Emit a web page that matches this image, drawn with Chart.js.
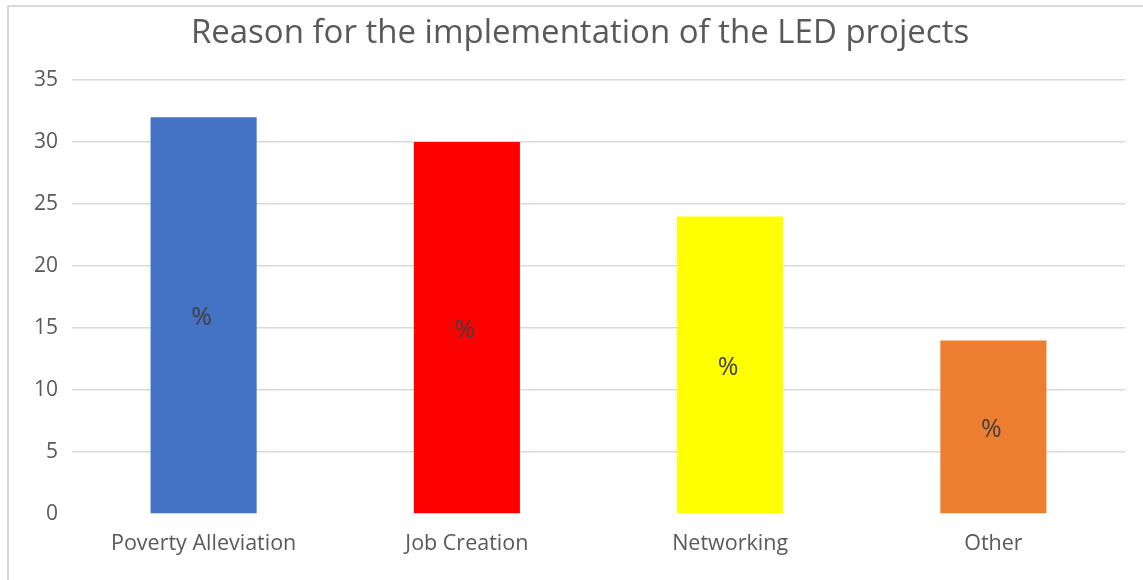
<!DOCTYPE html>
<html>
<head>
<meta charset="utf-8">
<script src="https://cdn.jsdelivr.net/npm/chart.js@4/dist/chart.umd.min.js"></script>
<style>
  html, body { margin: 0; padding: 0; background: #fff; overflow: hidden; }
  #wrap { position: absolute; left: 0; top: 0; width: 1143px; height: 580px; }
</style>
</head>
<body>
<div id="wrap"><canvas id="led-chart" width="1143" height="580"></canvas></div>
<script>
var categories = ['Poverty Alleviation', 'Job Creation', 'Networking', 'Other'];
var percents = [32, 30, 24, 14];
var barColors = ['#4472C4', '#FF0000', '#FFFF00', '#ED7D31'];
var yTicks = [0, 5, 10, 15, 20, 25, 30, 35];

// light grey frame on the top and left edges
var framePlugin = {
  id: 'frame',
  beforeDraw: function(chart) {
    var ctx = chart.ctx;
    ctx.save();
    ctx.strokeStyle = '#d9d9d9';
    ctx.lineWidth = 2;
    ctx.beginPath();
    ctx.moveTo(8, chart.height);
    ctx.lineTo(8, 6);
    ctx.lineTo(chart.width, 6);
    ctx.stroke();
    ctx.restore();
  }
};

// "%" written in the middle of every bar
var percentPlugin = {
  id: 'percentLabels',
  afterDatasetsDraw: function(chart) {
    var ctx = chart.ctx;
    var meta = chart.getDatasetMeta(0);
    ctx.save();
    ctx.fillStyle = '#404040';
    ctx.font = '25px "Open Sans"';
    ctx.textAlign = 'center';
    ctx.textBaseline = 'middle';
    meta.data.forEach(function(bar) {
      var c = bar.getCenterPoint();
      ctx.fillText('%', c.x - 2, c.y + 3);
    });
    ctx.restore();
  }
};

var myBarChart = new Chart(document.getElementById('led-chart').getContext('2d'), {
  type: 'bar',
  data: {
    labels: categories,
    datasets: [{
      data: percents,
      backgroundColor: barColors,
      categoryPercentage: 1,
      barPercentage: 0.403
    }]
  },
  options: {
    responsive: false,
    animation: false,
    layout: { padding: { left: 35, right: 18, top: 0, bottom: 0 } },
    plugins: {
      legend: { display: false },
      tooltip: { enabled: false },
      title: {
        display: true,
        text: 'Reason for the implementation of the LED projects',
        color: '#595959',
        font: { family: '"Open Sans"', size: 33, weight: 'normal' },
        padding: { top: 14, bottom: 26.4 }
      }
    },
    scales: {
      x: {
        grid: { display: false },
        border: { display: false },
        ticks: {
          color: '#595959',
          font: { family: '"Open Sans"', size: 21.5 },
          padding: 9
        },
        afterFit: function(scale) { scale.height = 66; }
      },
      y: {
        min: 0,
        max: 35,
        afterBuildTicks: function(scale) {
          scale.ticks = yTicks.map(function(v) { return { value: v }; });
        },
        grid: {
          drawTicks: false,
          lineWidth: 1.5,
          color: function(ctx) { return ctx.tick && ctx.tick.value === 0 ? 'rgba(0,0,0,0)' : '#d9d9d9'; }
        },
        border: { display: false },
        ticks: {
          color: '#595959',
          font: { family: '"Open Sans"', size: 21 },
          padding: 14
        },
        afterFit: function(scale) { scale.width = 37; }
      }
    }
  },
  plugins: [framePlugin, percentPlugin]
});
</script>
</body>
</html>
